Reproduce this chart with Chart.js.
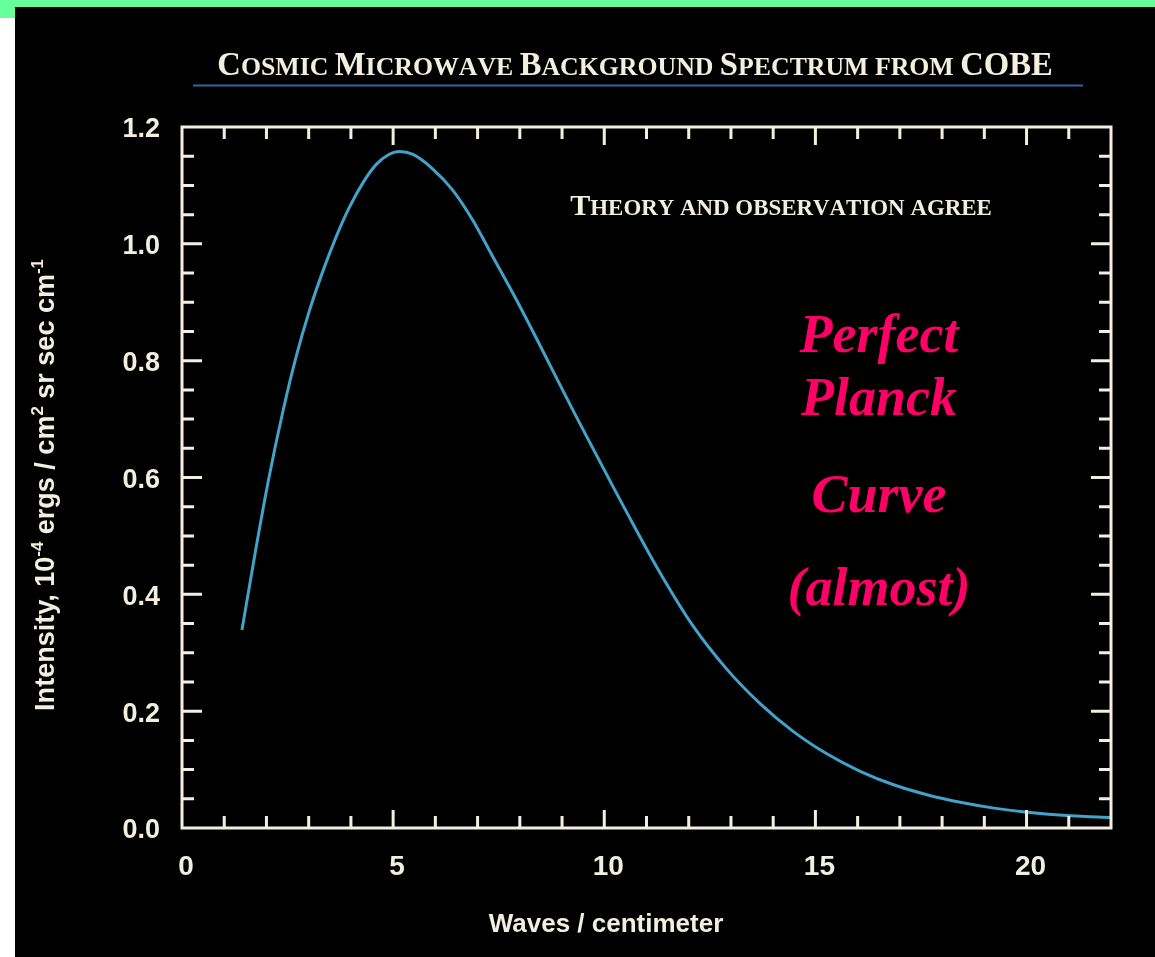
<!DOCTYPE html>
<html>
<head>
<meta charset="utf-8">
<script src="https://cdn.jsdelivr.net/npm/chart.js@4"></script>
<style>
  html, body { margin: 0; padding: 0; background: #000; overflow: hidden; }
  canvas { display: block; }
</style>
</head>
<body>
<canvas id="cmb" width="1155" height="957"></canvas>
<script>
// Spectrum samples: wave number (1/cm) and intensity (1e-4 erg / cm^2 sr sec cm^-1)
const waveNumbers = [1.42, 1.75, 2.06, 2.38, 2.70, 3.01, 3.33, 3.65, 3.96, 4.28, 4.60, 4.88, 5.15, 5.47, 5.94,
                     6.41, 6.89, 7.36, 7.84, 8.31, 8.78, 9.26, 9.73, 10.13, 10.52, 11.32, 12.11, 12.90, 13.69,
                     14.48, 15.27, 16.06, 16.85, 17.64, 18.43, 19.23, 20.02, 21.04, 22.00];
const intensity   = [0.339, 0.478, 0.600, 0.710, 0.806, 0.884, 0.952, 1.012, 1.062, 1.104, 1.136, 1.152, 1.158, 1.153, 1.128,
                     1.092, 1.040, 0.978, 0.915, 0.850, 0.783, 0.715, 0.650, 0.595, 0.542, 0.437, 0.345, 0.272, 0.213,
                     0.165, 0.127, 0.097, 0.074, 0.057, 0.044, 0.034, 0.027, 0.021, 0.018];
const xTickLabels = [0, 5, 10, 15, 20];
const yTickLabels = [0.0, 0.2, 0.4, 0.6, 0.8, 1.0, 1.2];

const chartTitle  = 'Cosmic Microwave Background Spectrum from COBE';
const subTitle    = 'Theory and observation agree';
const noteLines   = ['Perfect', 'Planck', 'Curve', '(almost)'];
const xTitle      = 'Waves / centimeter';
const yTitleRuns  = [['Intensity, 10', false], ['-4', true], [' ergs / cm', false], ['2', true],
                     [' sr sec cm', false], ['-1', true]];

const INK = '#f3efdf';
const CURVE = '#42a2c9';
const PINK = '#ff0066';
const SANS = '"Liberation Sans", Arial, sans-serif';
const SERIF = '"Liberation Serif", "Times New Roman", serif';

// Draw text in small capitals: capitals at full size, lowercase as reduced capitals.
function smallCapsRuns(ctx, text, big, small, family) {
  const runs = [];
  for (const ch of text) {
    const isSmall = ch === ' ' || ch !== ch.toUpperCase();
    const size = isSmall ? small : big;
    ctx.font = `bold ${size}px ${family}`;
    runs.push({ ch: ch.toUpperCase(), size, w: ctx.measureText(ch.toUpperCase()).width });
  }
  return runs;
}
function drawSmallCaps(ctx, text, cx, baseline, targetWidth, ratio, family) {
  let runs = smallCapsRuns(ctx, text, 100, 100 * ratio, family);
  const w100 = runs.reduce((s, r) => s + r.w, 0);
  const big = 100 * targetWidth / w100;
  runs = smallCapsRuns(ctx, text, big, big * ratio, family);
  const total = runs.reduce((s, r) => s + r.w, 0);
  let x = cx - total / 2;
  ctx.textAlign = 'left';
  ctx.textBaseline = 'alphabetic';
  for (const r of runs) {
    ctx.font = `bold ${r.size}px ${family}`;
    ctx.fillText(r.ch, x, baseline);
    x += r.w;
  }
}

// Axis title with raised exponents, laid along a given length.
function drawRunsWithSuperscripts(ctx, runs, cx, baseline, targetLength) {
  const measure = size => runs.reduce((s, [t, sup]) => {
    ctx.font = `bold ${sup ? size * 0.62 : size}px ${SANS}`;
    return s + ctx.measureText(t).width;
  }, 0);
  const size = 20 * targetLength / measure(20);
  let px = cx - measure(size) / 2;
  ctx.textAlign = 'left';
  ctx.textBaseline = 'alphabetic';
  for (const [t, sup] of runs) {
    ctx.font = `bold ${sup ? size * 0.62 : size}px ${SANS}`;
    ctx.fillText(t, px, sup ? baseline - size * 0.4 : baseline);
    px += ctx.measureText(t).width;
  }
}

const backdrop = {
  id: 'backdrop',
  beforeDraw(chart) {
    const ctx = chart.ctx;
    ctx.save();
    ctx.fillStyle = '#000000';
    ctx.fillRect(0, 0, chart.width, chart.height);
    ctx.fillStyle = '#ffffff';
    ctx.fillRect(0, 0, 15, chart.height);
    ctx.fillStyle = '#66ff99';
    ctx.fillRect(0, 0, chart.width, 7);
    ctx.fillRect(0, 0, 15, 18);
    ctx.restore();
  }
};

const frame = {
  id: 'frame',
  afterDatasetsDraw(chart) {
    const { ctx, chartArea: a, scales: { x, y } } = chart;
    ctx.save();
    ctx.strokeStyle = INK;
    ctx.lineWidth = 3;
    ctx.lineCap = 'butt';
    ctx.strokeRect(a.left, a.top, a.right - a.left, a.bottom - a.top);
    ctx.beginPath();
    for (let v = 1; v < x.max; v++) {
      const px = x.getPixelForValue(v);
      const len = v % 5 === 0 ? 18 : 12;
      ctx.moveTo(px, a.bottom); ctx.lineTo(px, a.bottom - len);
      ctx.moveTo(px, a.top);    ctx.lineTo(px, a.top + len);
    }
    for (let i = 1; i < 24; i++) {
      const py = y.getPixelForValue(i * 0.05);
      const len = i % 4 === 0 ? 20 : 12;
      ctx.moveTo(a.left, py);  ctx.lineTo(a.left + len, py);
      ctx.moveTo(a.right, py); ctx.lineTo(a.right - len, py);
    }
    ctx.stroke();
    ctx.restore();
  }
};

const annotations = {
  id: 'annotations',
  afterDraw(chart) {
    const ctx = chart.ctx;
    ctx.save();
    ctx.fillStyle = INK;
    drawSmallCaps(ctx, chartTitle, 635, 75, 836, 0.79, SERIF);
    drawSmallCaps(ctx, subTitle, 781, 215, 422, 0.76, SERIF);

    ctx.strokeStyle = '#2f67a6';
    ctx.lineWidth = 2;
    ctx.beginPath();
    ctx.moveTo(193, 85.5); ctx.lineTo(1083, 85.5);
    ctx.stroke();

    ctx.fillStyle = PINK;
    ctx.font = `bold italic 54px ${SERIF}`;
    ctx.textAlign = 'center';
    ctx.textBaseline = 'alphabetic';
    const baselines = [352, 415, 512, 605];
    noteLines.forEach((t, i) => ctx.fillText(t, 879, baselines[i]));

    ctx.fillStyle = INK;
    ctx.font = `bold 26px ${SANS}`;
    ctx.fillText(xTitle, 606, 932);

    // rotated y-axis title
    ctx.translate(54, 485);
    ctx.rotate(-Math.PI / 2);
    drawRunsWithSuperscripts(ctx, yTitleRuns, 0, 0, 452);
    ctx.restore();
  }
};

new Chart(document.getElementById('cmb'), {
  type: 'line',
  data: {
    datasets: [{
      data: waveNumbers.map((w, i) => ({ x: w, y: intensity[i] })),
      borderColor: CURVE,
      borderWidth: 3,
      pointRadius: 0,
      fill: false,
      cubicInterpolationMode: 'monotone'
    }]
  },
  options: {
    responsive: false,
    devicePixelRatio: 1,
    animation: false,
    layout: { padding: { top: 127, right: 44, left: 0, bottom: 0 } },
    plugins: { legend: { display: false }, title: { display: false }, tooltip: { enabled: false } },
    scales: {
      x: {
        type: 'linear', position: 'bottom', min: 0, max: 22,
        grid: { display: false, drawTicks: false },
        border: { display: false },
        afterBuildTicks: s => { s.ticks = xTickLabels.map(v => ({ value: v })); },
        afterFit: s => { s.height = 129; },
        ticks: {
          color: INK, padding: 22, labelOffset: 4, maxRotation: 0,
          font: { family: SANS, size: 28, weight: 'bold' },
          callback: v => String(v)
        }
      },
      y: {
        type: 'linear', min: 0, max: 1.2,
        grid: { display: false, drawTicks: false },
        border: { display: false },
        afterBuildTicks: s => { s.ticks = yTickLabels.map(v => ({ value: v })); },
        afterFit: s => { s.width = 182; },
        ticks: {
          color: INK, padding: 22, labelOffset: 3,
          font: { family: SANS, size: 27, weight: 'bold' },
          callback: v => Number(v).toFixed(1)
        }
      }
    }
  },
  plugins: [backdrop, frame, annotations]
});
</script>
</body>
</html>
